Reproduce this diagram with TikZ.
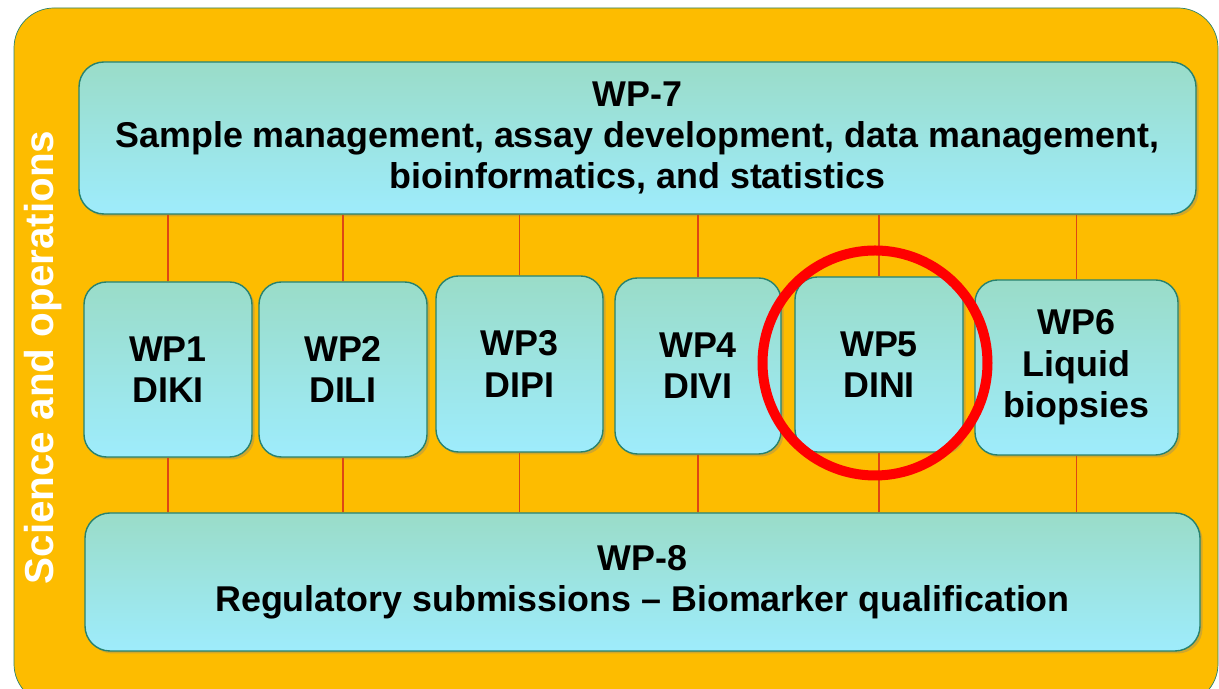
\documentclass[tikz,border=0pt]{standalone}
\usepackage{fontspec}
\setmainfont{Liberation Sans}
\usetikzlibrary{shadows}
\definecolor{panelorange}{RGB}{253,188,0}
\definecolor{boxtop}{RGB}{154,220,200}
\definecolor{boxbottom}{RGB}{158,236,252}
\definecolor{boxedge}{RGB}{40,130,110}
\definecolor{linkred}{RGB}{222,70,20}
\begin{document}
\begin{tikzpicture}[
  wpbox/.style={rectangle, draw=boxedge, thick, rounded corners=0.45cm, top color=boxtop, bottom color=boxbottom, align=center, font=\fontsize{20.4}{23.5}\selectfont\bfseries, drop shadow={opacity=0.35, shadow xshift=0.05cm, shadow yshift=-0.05cm}},
  wide/.style={wpbox, rounded corners=0.5cm, execute at begin node={\rule{0pt}{0.8cm}}},
  link/.style={draw=linkred, line width=1pt}
]
\useasboundingbox (0,0) rectangle (24.38,13.78);
\draw[draw=boxedge, fill=panelorange, rounded corners=0.8cm] (0.28,-0.3) rectangle (24.36,13.62);
\node[rotate=90, text=white, font=\fontsize{23}{26}\selectfont\bfseries] (label) at (0.86,6.63) {Science and operations};

\node[wide, minimum width=22.34cm, minimum height=3.04cm] (wp7) at (12.75,11.02) {WP-7\\Sample management, assay development, data management,\\bioinformatics, and statistics};
\node[wide, minimum width=22.3cm, minimum height=2.76cm] (wp8) at (12.85,2.14) {WP-8\\Regulatory submissions -- Biomarker qualification};

\node[wpbox, minimum width=3.36cm, minimum height=3.5cm] (wp1) at (3.36,6.39) {WP1\\DIKI};
\node[wpbox, minimum width=3.36cm, minimum height=3.5cm] (wp2) at (6.86,6.39) {WP2\\DILI};
\node[wpbox, minimum width=3.34cm, minimum height=3.52cm] (wp3) at (10.39,6.50) {WP3\\DIPI};
\node[wpbox, minimum width=3.32cm, minimum height=3.52cm] (wp4) at (13.96,6.46) {WP4\\DIVI};
\node[wpbox, minimum width=3.36cm, minimum height=3.5cm] (wp5) at (17.58,6.49) {WP5\\DINI};
\node[wpbox, minimum width=4.06cm, minimum height=3.5cm] (wp6) at (21.53,6.43) {WP6\\Liquid\\biopsies};

\foreach \n in {wp1,wp2,wp3,wp4,wp5,wp6} {
  \draw[link] (\n) -- (\n |- wp7.south);
  \draw[link] (\n) -- (\n |- wp8.north);
}

\node[draw=red, line width=0.2cm, circle, minimum size=4.5cm] (focus) at (17.5,6.52) {};
\end{tikzpicture}
\end{document}
